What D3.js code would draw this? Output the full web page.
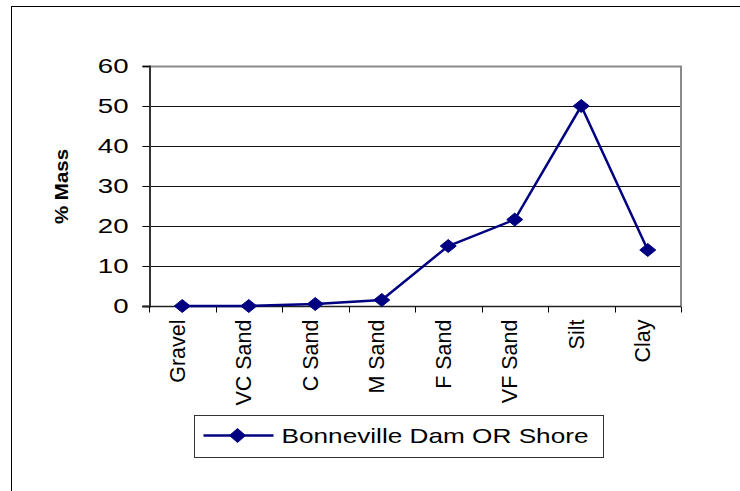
<!DOCTYPE html>
<html>
<head>
<meta charset="utf-8">
<script src="https://cdn.jsdelivr.net/npm/d3@7"></script>
<style>
  html, body { margin: 0; padding: 0; background: #fff; }
  svg { display: block; font-family: Arial, "Liberation Sans", sans-serif; }
</style>
</head>
<body>
<svg id="chart" width="740" height="491"></svg>
<script>
// Grain-size distribution, percent of sample mass per class
const categories = ["Gravel", "VC Sand", "C Sand", "M Sand", "F Sand", "VF Sand", "Silt", "Clay"];
const massPercent = [0, 0, 0.5, 1.5, 15, 21.6, 50, 14];
const yTicks = [0, 10, 20, 30, 40, 50, 60];
const seriesName = "Bonneville Dam OR Shore";
const yTitle = "% Mass";

const svg = d3.select("#chart");
const navy = "#000080";
const font = "Arial, 'Liberation Sans', sans-serif";

// Outer chart frame
svg.append("rect")
  .attr("x", 11.5).attr("y", 6.5)
  .attr("width", 760).attr("height", 500)
  .attr("fill", "none").attr("stroke", "#000").attr("stroke-width", 1);

const plot = { left: 149, right: 681, top: 66, bottom: 306 };

const x = d3.scaleBand().domain(categories).range([plot.left, plot.right]).padding(0);
const y = d3.scaleLinear().domain([0, 60]).range([plot.bottom, plot.top]);

// Horizontal gridlines
svg.append("g")
  .selectAll("line")
  .data(yTicks.filter(t => t > 0 && t < 60))
  .join("line")
  .attr("x1", plot.left).attr("x2", plot.right)
  .attr("y1", d => Math.round(y(d)) + 0.5).attr("y2", d => Math.round(y(d)) + 0.5)
  .attr("stroke", "#111").attr("stroke-width", 1);

// Plot area border: top and right edges in grey
svg.append("path")
  .attr("d", `M${plot.left},${plot.top + 0.5}H${plot.right}V${plot.bottom}`)
  .attr("fill", "none").attr("stroke", "#8a8a8a").attr("stroke-width", 2);

// Y axis; tick numbers drawn wide
const yStretch = 1.38;
const yAxis = d3.axisLeft(y).tickValues(yTicks).tickSize(7).tickPadding(0).tickFormat(d3.format("d"));
const gy = svg.append("g").attr("transform", `translate(${plot.left + 0.5},0)`).call(yAxis);
gy.select(".domain").attr("stroke", "#333").attr("stroke-width", 2);
gy.selectAll(".tick line").attr("stroke", "#000");
gy.selectAll(".tick text")
  .attr("x", -21 / yStretch)
  .attr("transform", `scale(${yStretch},1)`)
  .attr("font-size", 20).attr("fill", "#000")
  .attr("font-family", font);

// X axis with tick marks at category boundaries
const gx = svg.append("g").attr("transform", `translate(0,${plot.bottom + 0.5})`);
gx.append("line")
  .attr("x1", plot.left - 7).attr("x2", plot.right)
  .attr("stroke", "#222").attr("stroke-width", 1.5);
const boundaries = categories.map(c => x(c)).concat([plot.right]);
gx.selectAll("line.tick")
  .data(boundaries)
  .join("line")
  .attr("class", "tick")
  .attr("x1", d => Math.round(d) + 0.5).attr("x2", d => Math.round(d) + 0.5)
  .attr("y1", 0).attr("y2", 6)
  .attr("stroke", "#000");
gx.selectAll("text")
  .data(categories)
  .join("text")
  .attr("transform", d => `translate(${x(d) + x.bandwidth() / 2 + 2.5},${13}) rotate(-90)`)
  .attr("text-anchor", "end")
  .attr("font-size", 21.5)
  .attr("font-family", font)
  .attr("fill", "#000")
  .text(d => d);

// Y axis title
svg.append("text")
  .attr("transform", `translate(68,${(plot.top + plot.bottom) / 2 + 0.5}) rotate(-90)`)
  .attr("text-anchor", "middle")
  .attr("font-size", 19).attr("font-weight", "bold")
  .attr("font-family", font)
  .attr("textLength", 75).attr("lengthAdjust", "spacingAndGlyphs")
  .attr("fill", "#000")
  .text(yTitle);

// Series line and diamond markers
const cx = d => x(d) + x.bandwidth() / 2;
const pts = categories.map((c, i) => [cx(c), y(massPercent[i])]);
svg.append("path")
  .attr("d", d3.line()(pts))
  .attr("fill", "none").attr("stroke", navy).attr("stroke-width", 2.5);

const diamond = (w, h) => `M0,${-h}L${w},0L0,${h}L${-w},0Z`;
svg.append("g")
  .selectAll("path")
  .data(pts)
  .join("path")
  .attr("transform", d => `translate(${d[0]},${d[1]})`)
  .attr("d", diamond(8, 6.5))
  .attr("fill", navy).attr("stroke", navy).attr("stroke-width", 1);

// Legend
const lg = svg.append("g").attr("transform", "translate(194.5,415.5)");
lg.append("rect")
  .attr("width", 409).attr("height", 42)
  .attr("fill", "#fff").attr("stroke", "#333").attr("stroke-width", 1);
lg.append("line")
  .attr("x1", 9).attr("x2", 79).attr("y1", 20).attr("y2", 20)
  .attr("stroke", navy).attr("stroke-width", 2.5);
lg.append("path")
  .attr("transform", "translate(43,20)")
  .attr("d", diamond(8, 7))
  .attr("fill", navy).attr("stroke", navy);
lg.append("text")
  .attr("x", 87).attr("y", 27.5)
  .attr("font-size", 21)
  .attr("font-family", font)
  .attr("textLength", 307).attr("lengthAdjust", "spacingAndGlyphs")
  .attr("fill", "#000")
  .text(seriesName);
</script>
</body>
</html>
